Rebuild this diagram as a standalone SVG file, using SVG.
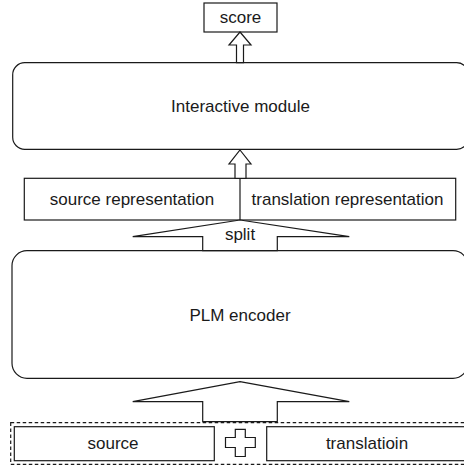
<svg xmlns="http://www.w3.org/2000/svg" width="464" height="468" viewBox="0 0 464 468">
<style>
.box{fill:#fff;stroke:#1a1a1a;stroke-width:1.2}
.dash{fill:none;stroke:#1a1a1a;stroke-width:1.2;stroke-dasharray:3.5 2.5}
.arr{fill:#fff;stroke:#1a1a1a;stroke-width:1.2;stroke-linejoin:miter}
text{font-family:"Liberation Sans",Arial,sans-serif;font-size:17px;fill:#1a1a1a;text-anchor:middle}
</style>
<rect width="464" height="468" fill="#fff"/>
<g id="score"><rect class="box" x="204" y="3" width="73" height="29"/><text x="240.5" y="23">score</text></g>
<g id="interactive"><rect class="box" x="12.7" y="62.7" width="456" height="86.6" rx="12"/><text x="240.5" y="111.7">Interactive module</text></g>
<g id="representation"><rect class="box" x="24.3" y="178.3" width="431.4" height="41.7"/><line class="box" x1="240" y1="178.3" x2="240" y2="220"/><text x="132" y="205">source representation</text><text x="347.5" y="205">translation representation</text></g>
<g id="plm"><rect class="box" x="12" y="250.7" width="456" height="127.6" rx="15"/><text x="240" y="321">PLM encoder</text></g>
<g id="inputs"><rect class="dash" x="10.7" y="422.7" width="458" height="41.6"/><rect class="box" x="14.3" y="426.7" width="200" height="34"/><text x="113" y="449">source</text><rect class="box" x="266.7" y="426.7" width="202" height="34"/><text x="367" y="449">translatioin</text><polygon class="arr" points="235.3,429.3 245.3,429.3 245.3,437.5 255.3,437.5 255.3,447.5 245.3,447.5 245.3,456.5 235.3,456.5 235.3,447.5 225.5,447.5 225.5,437.5 235.3,437.5"/></g>
<g id="connectors">
<polygon class="arr" points="240,32 251,45 243.5,45 243.5,62.7 236.5,62.7 236.5,45 229,45"/>
<polygon class="arr" points="240,150 251,164 246,164 246,178.3 235,178.3 235,164 229,164"/>
<polygon class="arr" points="240,220 349.3,236.7 277.3,236.7 277.3,250.7 202.7,250.7 202.7,236.7 132.7,236.7"/>
<text x="240" y="239.5">split</text>
<polygon class="arr" points="240,381.7 349.3,401.7 277.3,401.7 277.3,421.7 202.7,421.7 202.7,401.7 132.7,401.7"/>
</g>
</svg>
